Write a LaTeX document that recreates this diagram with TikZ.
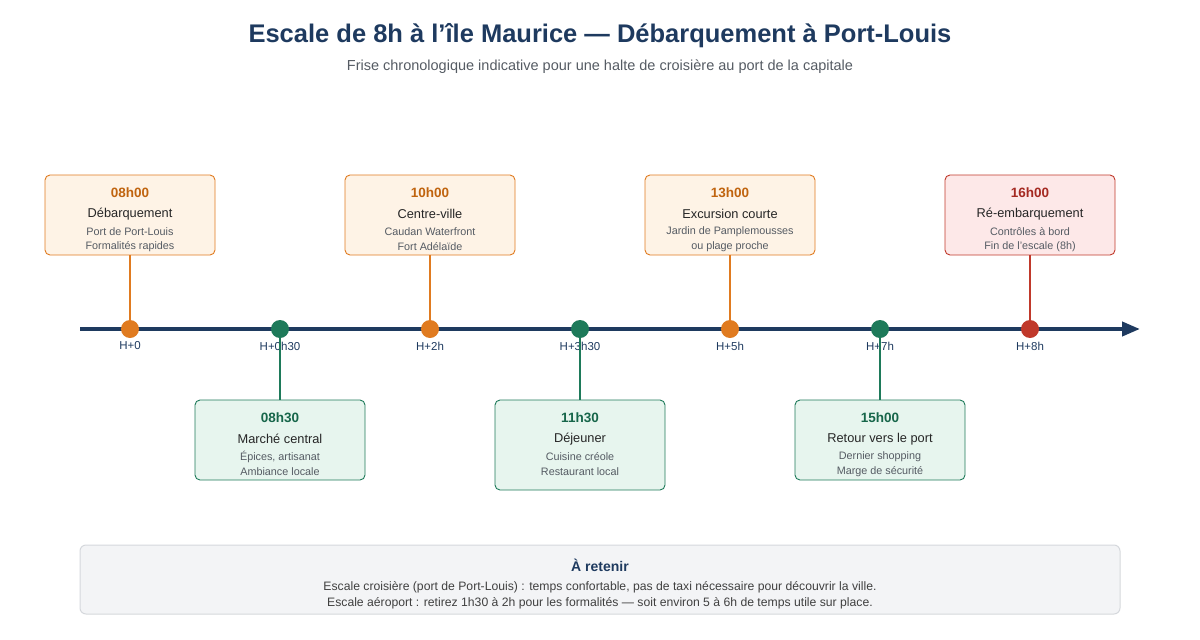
\documentclass[tikz,border=0pt]{standalone}
\usepackage{fontspec}
\setmainfont{Liberation Sans}
\usetikzlibrary{positioning,arrows.meta}
\definecolor{navy}{HTML}{1E3A5F}
\definecolor{grisTxt}{HTML}{555B63}
\definecolor{orangeC}{HTML}{E07B20}
\definecolor{orangeF}{HTML}{FEF3E6}
\definecolor{orangeT}{HTML}{C0640F}
\definecolor{vertC}{HTML}{1E7A5A}
\definecolor{vertF}{HTML}{E7F5EE}
\definecolor{vertT}{HTML}{17664A}
\definecolor{rougeC}{HTML}{C0392B}
\definecolor{rougeF}{HTML}{FDE8E8}
\definecolor{rougeT}{HTML}{A52A22}
\definecolor{boiteF}{HTML}{F3F4F6}
\definecolor{boiteC}{HTML}{D5D8DC}

% one stop of the timeline: name, box centre, colour, hour, title, two detail lines
\newcommand{\etape}[9]{%
  \node[etape, draw=#4C, fill=#4F] (#1) at (#2,#3) {};
  \node[heure, text=#4T] (#1h) at ([yshift=-18]#1.north) {#5};
  \node[titre] (#1t) at ([yshift=-39.5]#1.north) {#6};
  \node[detail] (#1a) at ([yshift=-57.5]#1.north) {#7};
  \node[detail] (#1b) at ([yshift=-72.5]#1.north) {#8};
  \draw[stem, draw=#4C] (#1.#9) -- (p#1);
}

\begin{document}
\begin{tikzpicture}[x=1pt, y=-1pt,
  etape/.style = {rectangle, rounded corners=5pt, line width=0.9pt, minimum width=170pt, minimum height=80pt},
  heure/.style = {font=\fontsize{13.5}{15}\selectfont\bfseries},
  titre/.style = {font=\fontsize{12.8}{14}\selectfont, text=black!85},
  detail/.style = {font=\fontsize{10.8}{12}\selectfont, text=grisTxt},
  point/.style = {circle, minimum size=18pt, inner sep=0pt},
  repere/.style = {font=\fontsize{11.5}{13}\selectfont, text=navy},
  stem/.style = {line width=1.5pt}]
  \useasboundingbox (0,0) rectangle (1200,640);

  \node[font=\fontsize{25.5}{29}\selectfont\bfseries, text=navy] (titre) at (600,36)
    {Escale de 8h à l\char"0027île Maurice — Débarquement à Port-Louis};
  \node[font=\fontsize{14.5}{17}\selectfont, text=grisTxt] (soustitre) at (600,67)
    {Frise chronologique indicative pour une halte de croisière au port de la capitale};

  % axe
  \coordinate (debut) at (80,329);
  \coordinate (fin) at (1140,329);
  \draw[navy, line width=4pt, -{Triangle[length=18pt, width=14pt]}] (debut) -- (fin);

  \foreach \nom/\x/\col/\lab in {a/130/orangeC/H+0, b/280/vertC/H+0h30, c/430/orangeC/H+2h,
      d/580/vertC/H+3h30, e/730/orangeC/H+5h, f/880/vertC/H+7h, g/1030/rougeC/H+8h} {
    \node[point, fill=\col] (p\nom) at (\x,329) {};
    \node[repere] (l\nom) at (\x,346) {\lab};
  }

  \etape{a}{130}{215}{orange}{08h00}{Débarquement}{Port de Port-Louis}{Formalités rapides}{south}
  \etape{c}{430}{215}{orange}{10h00}{Centre-ville}{Caudan Waterfront}{Fort Adélaïde}{south}
  \etape{e}{730}{215}{orange}{13h00}{Excursion courte}{Jardin de Pamplemousses}{ou plage proche}{south}
  \etape{g}{1030}{215}{rouge}{16h00}{Ré-embarquement}{Contrôles à bord}{Fin de l\char"0027escale (8h)}{south}
  \etape{b}{280}{440}{vert}{08h30}{Marché central}{Épices, artisanat}{Ambiance locale}{north}
  \node[etape, draw=vertC, fill=vertF, minimum height=90pt] (d) at (580,445) {};
  \node[heure, text=vertT] (dh) at ([yshift=-18]d.north) {11h30};
  \node[titre] (dt) at ([yshift=-39.5]d.north) {Déjeuner};
  \node[detail] (da) at ([yshift=-57.5]d.north) {Cuisine créole};
  \node[detail] (db) at ([yshift=-72.5]d.north) {Restaurant local};
  \draw[stem, draw=vertC] (d.north) -- (pd);
  \etape{f}{880}{440}{vert}{15h00}{Retour vers le port}{Dernier shopping}{Marge de sécurité}{north}

  % encadré
  \node[rectangle, rounded corners=6pt, draw=boiteC, fill=boiteF, line width=1pt,
    minimum width=1040pt, minimum height=69pt] (retenir) at (600,579.5) {};
  \node[font=\fontsize{14}{16}\selectfont\bfseries, text=navy] (rt) at (600,565) {À retenir};
  \node[font=\fontsize{12.2}{14}\selectfont, text=black!75] (r1) at (600,587)
    {Escale croisière (port de Port-Louis) : temps confortable, pas de taxi nécessaire pour découvrir la ville.};
  \node[font=\fontsize{12.2}{14}\selectfont, text=black!75] (r2) at (600,603)
    {Escale aéroport : retirez 1h30 à 2h pour les formalités — soit environ 5 à 6h de temps utile sur place.};
\end{tikzpicture}
\end{document}
